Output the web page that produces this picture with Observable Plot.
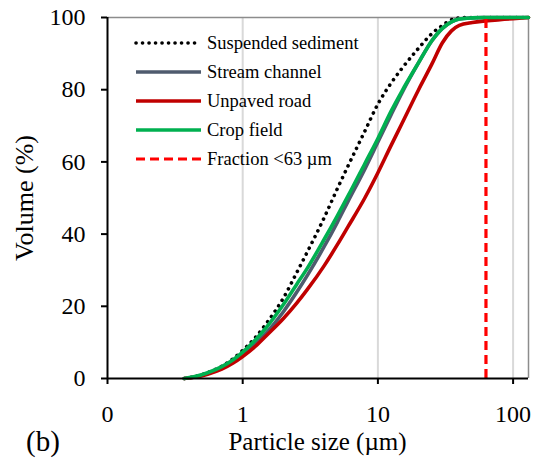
<!DOCTYPE html>
<html><head><meta charset="utf-8">
<script src="https://cdn.jsdelivr.net/npm/d3@7"></script>
<script src="https://cdn.jsdelivr.net/npm/@observablehq/plot@0.6"></script>
<style>
body{margin:0;background:#fff;}
#chart{position:relative;width:535px;height:459px;}
</style>
</head><body><div id="chart"></div>
<script>
// ---- data ----
const sizes      = [0.37, 0.45, 0.55, 0.7, 0.85, 1, 1.25, 1.5, 2, 2.5, 3, 4, 5, 6, 8, 10, 12.5, 15, 20, 25, 30, 35, 40, 50, 60, 80, 100, 130];
const suspended  = [0, 0.6, 1.6, 3.4, 5.5, 7.8, 11.5, 15.3, 22.3, 29.2, 35, 44.5, 52.5, 58.8, 68.5, 76, 81.8, 85.8, 91.5, 95.5, 97.8, 99.4, 99.9, 100, 100, 100, 100, 100];
const stream     = [0, 0.5, 1.4, 3, 4.8, 6.6, 9.7, 12.7, 18.5, 23.8, 28.5, 36.5, 43.2, 49, 58, 65.5, 73, 79, 87.5, 93.5, 97, 98.8, 99.6, 99.9, 100, 100, 100, 100];
const unpaved    = [0, 0.4, 1.2, 2.6, 4.3, 6.1, 9, 11.9, 16.6, 20.8, 24.6, 31.2, 37, 42, 50, 57, 64.5, 70.5, 80, 87, 93, 96.3, 97.8, 98.6, 99, 99.4, 99.7, 100];
const crop       = [0, 0.6, 1.6, 3.3, 5.2, 7.3, 10.8, 14.2, 20.5, 26, 30.5, 38.5, 45, 50.5, 59.5, 66.5, 74, 79.5, 87.5, 93.5, 97, 98.8, 99.6, 99.9, 100, 100, 100, 100];
const seriesNames = ["Suspended sediment", "Stream channel", "Unpaved road", "Crop field"];
const fractionLimit = [63];
const fractionLabel = "Fraction <63 µm";
const xTicks = [0.1, 1, 10, 100];
const xTickLabels = ["0", "1", "10", "100"];
const yTicks = [0, 20, 40, 60, 80, 100];
const xTitle = "Particle size (µm)";
const yTitle = "Volume (%)";
const panelLabel = "(b)";

// ---- styles ----
const styles = {
  "Suspended sediment": {stroke: "#000000", strokeWidth: 3.6, strokeDasharray: "0.1,6.4", strokeLinecap: "round"},
  "Stream channel":     {stroke: "#4f5b6e", strokeWidth: 3.6},
  "Unpaved road":       {stroke: "#c00000", strokeWidth: 3.6},
  "Crop field":         {stroke: "#00b050", strokeWidth: 3.6}
};
const fractionStyle = {stroke: "#ff0000", strokeWidth: 3.2, strokeDasharray: "9,5"};

const valuesList = [suspended, stream, unpaved, crop];
const rows = seriesNames.flatMap((n, i) => sizes.map((s, j) => ({series: n, size: s, vol: valuesList[i][j]})));

const font = "'Liberation Serif', 'Times New Roman', serif";

const plot = Plot.plot({
  width: 535, height: 459,
  marginLeft: 107, marginRight: 7, marginTop: 17, marginBottom: 81,
  style: {fontFamily: font, fontSize: "24px", color: "#000", background: "#fff", overflow: "visible"},
  x: {type: "log", domain: [0.1, 130]},
  y: {domain: [0, 100]},
  marks: [
    Plot.ruleX(xTicks.slice(1), {stroke: "#d9d9d9", strokeWidth: 2}),
    Plot.ruleY([100], {stroke: "#8c8c8c", strokeWidth: 1.5}),
    Plot.ruleX([130], {stroke: "#8c8c8c", strokeWidth: 1.5}),
    ...seriesNames.map(n => Plot.line(rows.filter(r => r.series === n), {
      x: "size", y: "vol", curve: "monotone-x", ...styles[n]
    })),
    Plot.ruleX(fractionLimit, {y1: 0, y2: 100, ...fractionStyle}),
    Plot.ruleY([0], {stroke: "#000", strokeWidth: 2}),
    Plot.ruleX([0.1], {stroke: "#000", strokeWidth: 2}),
    Plot.axisX({ticks: xTicks, tickFormat: d => xTickLabels[xTicks.indexOf(d)], tickSize: 6, tickPadding: 20, strokeWidth: 2, label: null}),
    Plot.axisY({ticks: yTicks, tickSize: 6, tickPadding: 16, strokeWidth: 2, label: null})
  ]
});
document.getElementById("chart").appendChild(plot);

// ---- titles and legend ----
const svg = d3.select(plot);
svg.append("text").attr("x", 317.5).attr("y", 450).attr("text-anchor", "middle")
  .attr("font-family", font).attr("font-size", 25).attr("fill", "#000").text(xTitle);
svg.append("text").attr("transform", "translate(33,198) rotate(-90)").attr("text-anchor", "middle")
  .attr("font-family", font).attr("font-size", 26).attr("fill", "#000").text(yTitle);
svg.append("text").attr("x", 26).attr("y", 451).attr("text-anchor", "start")
  .attr("font-family", font).attr("font-size", 29).attr("fill", "#000").text(panelLabel);

const legendItems = [...seriesNames.map(n => ({label: n, style: styles[n]})), {label: fractionLabel, style: fractionStyle}];
const lg = svg.append("g");
legendItems.forEach((it, i) => {
  const y = 43 + i * 29;
  const s = it.style;
  lg.append("line").attr("x1", 136).attr("x2", 201).attr("y1", y).attr("y2", y)
    .attr("stroke", s.stroke).attr("stroke-width", s.strokeWidth)
    .attr("stroke-dasharray", s.strokeDasharray || null)
    .attr("stroke-linecap", s.strokeLinecap || "butt");
  lg.append("text").attr("x", 207).attr("y", y).attr("dy", "0.35em").attr("text-anchor", "start")
    .attr("font-family", font).attr("font-size", 18.5).attr("fill", "#000").text(it.label);
});
</script>
</body></html>
